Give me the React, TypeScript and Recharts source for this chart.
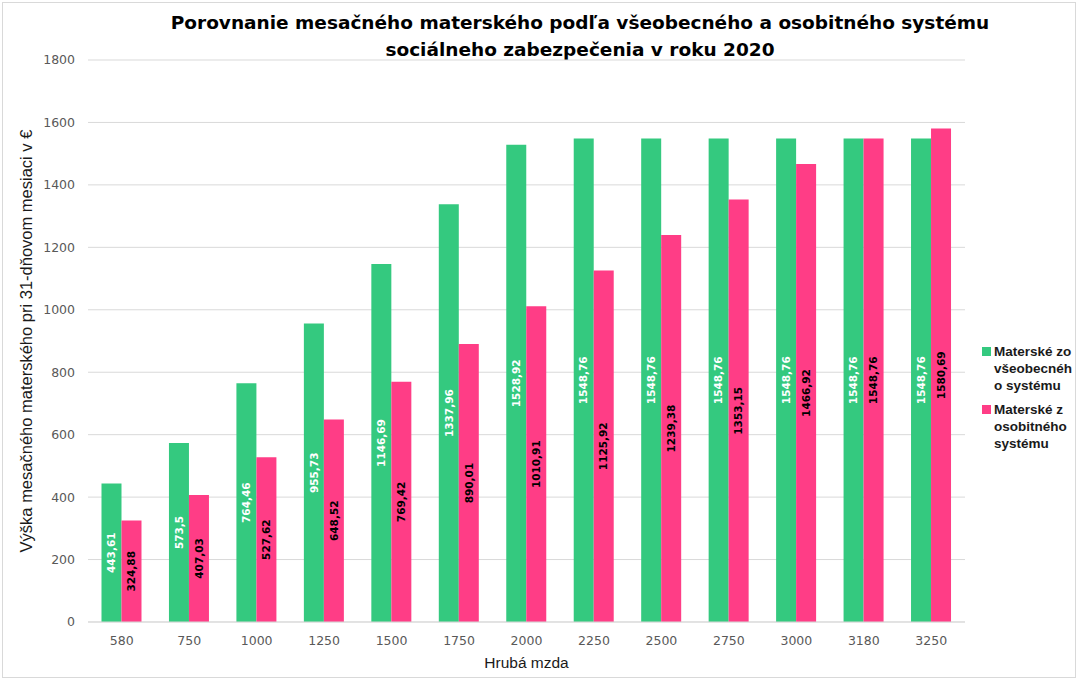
import React from 'react';
import { BarChart, Bar, CartesianGrid, XAxis, YAxis, LabelList } from 'recharts';

const wages = ['580', '750', '1000', '1250', '1500', '1750', '2000', '2250', '2500', '2750', '3000', '3180', '3250'];
const generalSystem = [443.61, 573.5, 764.46, 955.73, 1146.69, 1337.96, 1528.92, 1548.76, 1548.76, 1548.76, 1548.76, 1548.76, 1548.76];
const specialSystem = [324.88, 407.03, 527.62, 648.52, 769.42, 890.01, 1010.91, 1125.92, 1239.38, 1353.15, 1466.92, 1548.76, 1580.69];
const yTicks = [0, 200, 400, 600, 800, 1000, 1200, 1400, 1600, 1800];

const GREEN = '#34c97f';
const PINK = '#ff3d86';
const SANS = '"Liberation Sans", Arial, sans-serif';
const WIDE = '"DejaVu Sans", sans-serif';

// legend text wraps in the original, keep the same breaks
const legendItems = [
  { color: GREEN, lines: ['Materské zo', 'všeobecnéh', 'o systému'] },
  { color: PINK, lines: ['Materské z', 'osobitného', 'systému'] },
];

const data = wages.map((w, i) => ({
  wage: w,
  general: generalSystem[i],
  special: specialSystem[i],
}));

const fmt = (v: any) => String(v).replace('.', ',');

function ChartLegend() {
  return (
    <div
      style={{
        position: 'absolute',
        left: 982,
        top: 343,
        fontFamily: SANS,
        fontWeight: 700,
        fontSize: 13.5,
        lineHeight: '17px',
        color: '#1a1a1a',
      }}
    >
      {legendItems.map((item, i) => (
        <div key={i} style={{ display: 'flex', marginBottom: 7 }}>
          <div style={{ width: 9, height: 9, background: item.color, marginTop: 4, marginRight: 3, flexShrink: 0 }} />
          <div>
            {item.lines.map((l, j) => (
              <div key={j} style={{ whiteSpace: 'nowrap' }}>{l}</div>
            ))}
          </div>
        </div>
      ))}
    </div>
  );
}

export default function App() {
  return (
    <div style={{ position: 'absolute', left: 0, top: 0, width: 1078, height: 680, background: '#fff' }}>
      <div
        style={{
          position: 'absolute',
          left: 2,
          top: 2,
          width: 1072,
          height: 674,
          border: '1px solid #d9d9d9',
        }}
      />
      <div
        style={{
          position: 'absolute',
          left: 80,
          width: 1000,
          top: 9,
          textAlign: 'center',
          fontFamily: WIDE,
          fontWeight: 700,
          fontSize: 18.5,
          lineHeight: '27px',
          color: '#000',
        }}
      >
        Porovnanie mesačného materského podľa všeobecného a osobitného systému
        <br />
        sociálneho zabezpečenia v roku 2020
      </div>
      <BarChart
        width={1078}
        height={680}
        data={data}
        margin={{ top: 60, right: 113, left: 0, bottom: 8 }}
        barCategoryGap="20%"
        barGap={0}
      >
        <CartesianGrid vertical={false} stroke="#d9d9d9" />
        <XAxis
          dataKey="wage"
          height={50}
          tickLine={false}
          axisLine={{ stroke: '#d9d9d9' }}
          tick={{ fontSize: 12.5, fill: '#595959', fontFamily: WIDE }}
          tickMargin={8}
          label={{ value: 'Hrubá mzda', position: 'insideBottom', offset: 4, fontSize: 15.5, fill: '#1a1a1a', fontFamily: SANS }}
        />
        <YAxis
          width={88}
          domain={[0, 1800]}
          ticks={yTicks}
          tickLine={false}
          axisLine={false}
          tickMargin={7}
          tick={{ fontSize: 12.5, fill: '#595959', fontFamily: WIDE }}
          label={{
            value: 'Výška mesačného materského pri 31-dňovom mesiaci v €',
            angle: -90,
            position: 'insideLeft',
            offset: 26,
            style: { textAnchor: 'middle' },
            fontSize: 16.5,
            fill: '#1a1a1a',
            fontFamily: SANS,
          }}
        />
        <Bar dataKey="general" name="Materské zo všeobecného systému" fill={GREEN} isAnimationActive={false}>
          <LabelList
            dataKey="general"
            position="center"
            angle={-90}
            formatter={fmt}
            fill="#ffffff"
            fontSize={10.5}
            fontWeight={700}
            fontFamily={WIDE}
          />
        </Bar>
        <Bar dataKey="special" name="Materské z osobitného systému" fill={PINK} isAnimationActive={false}>
          <LabelList
            dataKey="special"
            position="center"
            angle={-90}
            formatter={fmt}
            fill="#000000"
            fontSize={10.5}
            fontWeight={700}
            fontFamily={WIDE}
          />
        </Bar>
      </BarChart>
      <ChartLegend />
    </div>
  );
}
